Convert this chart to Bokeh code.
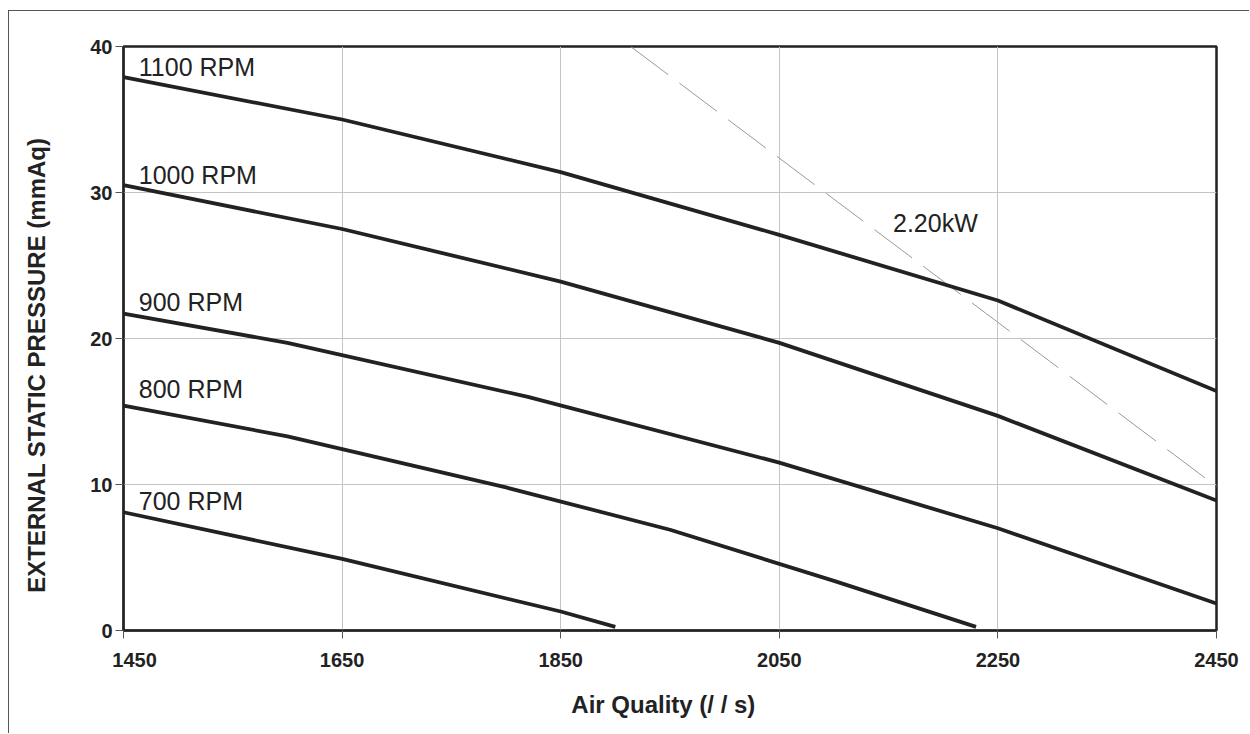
from bokeh.plotting import figure
from bokeh.models import FixedTicker, Range1d
from bokeh.core.properties import value
from bokeh.embed import file_html
from bokeh.resources import INLINE

# ---- data ----
x_ticks = [1450, 1650, 1850, 2050, 2250, 2450]
y_ticks = [0, 10, 20, 30, 40]

flow_1100 = [1450, 1650, 1850, 2050, 2250, 2450]
esp_1100 = [37.9, 35.0, 31.4, 27.1, 22.6, 16.4]

flow_1000 = [1450, 1650, 1850, 2050, 2250, 2450]
esp_1000 = [30.5, 27.5, 23.9, 19.7, 14.7, 8.9]

flow_900 = [1450, 1600, 1820, 2050, 2250, 2450]
esp_900 = [21.7, 19.7, 16.0, 11.5, 7.0, 1.85]

flow_800 = [1450, 1600, 1800, 1950, 2100, 2230]
esp_800 = [15.4, 13.3, 9.8, 6.9, 3.4, 0.25]

flow_700 = [1450, 1650, 1850, 1900]
esp_700 = [8.1, 4.9, 1.3, 0.25]

rpm_labels = ["1100 RPM", "1000 RPM", "900 RPM", "800 RPM", "700 RPM"]
rpm_label_x = [1464, 1464, 1464, 1464, 1464]
rpm_label_y = [38.6, 31.2, 22.5, 16.55, 8.9]

power_x = [1914, 2460]
power_y = [40.0, 9.3]
power_label = ["2.20kW"]
power_label_x = [2154]
power_label_y = [27.9]

FONT = "Liberation Sans"
DARK = "#222222"
NB = "\u00a0"

p = figure(width=1241, height=723,
           x_range=Range1d(1450, 2450), y_range=Range1d(0, 40),
           output_backend="svg", toolbar_location=None,
           min_border_left=114, min_border_right=34,
           min_border_top=35, min_border_bottom=104,
           x_axis_label="Air Quality (/ / s)" + NB * 2,
           y_axis_label="EXTERNAL STATIC PRESSURE (mmAq)" + NB * 8)
p.styles = {"margin-left": "8px", "margin-top": "10px",
            "border-left": "1px solid #555", "border-top": "1px solid #555"}

p.background_fill_color = "white"
p.border_fill_color = "white"
p.outline_line_color = DARK
p.outline_line_width = 2.5

for ax, ticks in ((p.xaxis, x_ticks), (p.yaxis, y_ticks)):
    ax.ticker = FixedTicker(ticks=ticks)
    ax.minor_tick_line_color = None
    ax.major_tick_in = 0
    ax.major_tick_out = 8
    ax.major_tick_line_color = "#555555"
    ax.axis_line_color = DARK
    ax.axis_line_width = 2
    ax.major_label_text_font = FONT
    ax.major_label_text_font_size = "20px"
    ax.major_label_text_font_style = "bold"
    ax.major_label_text_color = DARK
    ax.axis_label_text_font = FONT
    ax.axis_label_text_font_size = "24px"
    ax.axis_label_text_font_style = "bold"
    ax.axis_label_text_color = DARK

# first x label sits a little to the right of its tick in the reference
p.xaxis.major_label_overrides = {1450: NB * 4 + "1450"}

p.xaxis.major_label_standoff = 10
p.yaxis.major_label_standoff = 3
p.xaxis.axis_label_standoff = 17
p.yaxis.axis_label_standoff = 37

p.xgrid.ticker = FixedTicker(ticks=x_ticks)
p.ygrid.ticker = FixedTicker(ticks=y_ticks)
p.grid.grid_line_color = "#c4c4c4"
p.grid.grid_line_width = 1

p.line(power_x, power_y, line_color="#999999", line_width=1, line_dash="47 14")

for xs, ys in ((flow_1100, esp_1100), (flow_1000, esp_1000), (flow_900, esp_900),
               (flow_800, esp_800), (flow_700, esp_700)):
    p.line(xs, ys, line_color=DARK, line_width=3.8, line_join="round")

p.text(x=rpm_label_x, y=rpm_label_y, text=rpm_labels,
       text_font=value(FONT), text_font_size="25px",
       text_baseline="middle", text_align="left", text_color=DARK)
p.text(x=power_label_x, y=power_label_y, text=power_label,
       text_font=value(FONT), text_font_size="25px",
       text_baseline="middle", text_align="left", text_color=DARK)

open("out.html", "w").write(file_html(p, INLINE))
